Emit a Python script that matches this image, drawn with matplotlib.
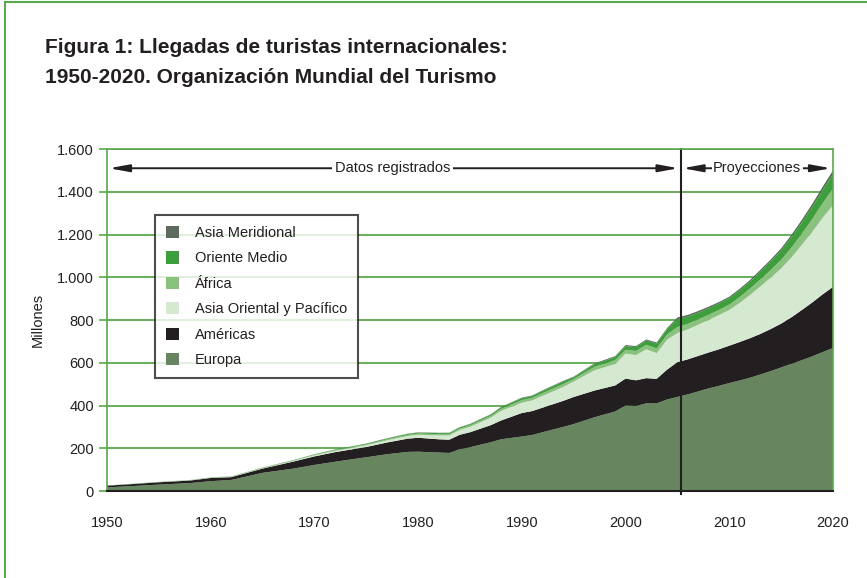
import matplotlib.pyplot as plt
from matplotlib.lines import Line2D

# years (registered data up to 2005, projections after)
years = [1950, 1952, 1955, 1958, 1960, 1962, 1965, 1968, 1970, 1972, 1975, 1977,
         1979, 1980, 1982, 1983, 1984, 1985, 1987, 1988, 1990, 1991, 1992, 1994,
         1995, 1997, 1999, 2000, 2001, 2002, 2003, 2004, 2005, 2006, 2007, 2008,
         2009, 2010, 2011, 2012, 2013, 2014, 2015, 2016, 2017, 2018, 2019, 2020]

# millions of arrivals per region
europa = [17, 22, 30, 37, 46, 52, 85, 105, 122, 137, 158, 172,
          183, 184, 180, 178, 195, 205, 228, 242, 255, 262, 275, 300,
          313, 345, 372, 400, 398, 410, 410, 428, 440, 452, 466, 480,
          492, 505, 517, 530, 545, 561, 578, 595, 612, 630, 650, 669]
americas = [8, 9, 11, 12, 15, 13, 20, 33, 40, 45, 48, 55,
            62, 65, 62, 62, 68, 70, 80, 88, 110, 112, 115, 122,
            127, 125, 122, 126, 120, 118, 115, 140, 163, 164, 166, 168,
            171, 175, 180, 185, 190, 197, 205, 218, 235, 252, 270, 286]
asia_oriental = [0.3, 0.4, 0.5, 0.8, 1, 1.5, 2, 3, 5, 6, 8, 10,
                 12, 14, 18, 20, 22, 25, 35, 45, 48, 50, 55, 65,
                 72, 95, 100, 117, 118, 135, 120, 140, 136, 140, 146, 152,
                 160, 167, 183, 202, 222, 240, 258, 280, 305, 330, 358, 383]
africa = [0.5, 0.6, 0.8, 0.9, 1, 1.1, 1.5, 2, 2.4, 3, 4, 5,
          6, 6, 6, 6, 7, 7, 8, 9, 12, 12, 13, 14,
          12, 16, 18, 18, 19, 21, 22, 24, 28, 26, 25, 24,
          24, 25, 27, 30, 33, 36, 40, 46, 52, 60, 68, 78]
oriente_medio = [0.3, 0.3, 0.4, 0.5, 0.6, 0.8, 1, 1.5, 1.9, 2.5, 3, 3.5,
                 4, 4, 5, 5, 5, 5, 6, 7, 9, 8, 10, 11,
                 8, 12, 14, 17, 18, 20, 23, 24, 36, 34, 31, 30,
                 30, 30, 31, 32, 36, 40, 44, 48, 52, 56, 61, 66]
asia_meridional = [0.1, 0.1, 0.1, 0.1, 0.2, 0.2, 0.3, 0.5, 0.8, 1, 1.2, 1.4,
                   1.5, 1.5, 1.5, 1.5, 2, 2, 2, 2.5, 3, 3, 3, 3.5,
                   3, 4, 5, 5, 5, 5, 5, 6, 9, 8, 8, 8,
                   7, 7, 8, 8, 9, 9, 10, 12, 13, 15, 16, 18]

labels = ['Europa', 'Américas', 'Asia Oriental y Pacífico', 'África',
          'Oriente Medio', 'Asia Meridional']
colors = ['#678660', '#231f20', '#d4e9d0', '#89c27c', '#3c9f3c', '#5d6b5d']

yticks = [0, 200, 400, 600, 800, 1000, 1200, 1400, 1600]
ytick_labels = ['0', '200', '400', '600', '800', '1.000', '1.200', '1.400', '1.600']
xticks = [1950, 1960, 1970, 1980, 1990, 2000, 2010, 2020]

sans = ['Liberation Sans', 'DejaVu Sans']
green = '#5aa84c'
ink = '#231f20'

fig = plt.figure(figsize=(8.67, 5.78), dpi=100)
ax = fig.add_axes([0.1234, 0.1505, 0.8374, 0.5917])

polys = ax.stackplot(years, europa, americas, asia_oriental, africa,
                     oriente_medio, asia_meridional, colors=colors, labels=labels,
                     linewidth=0)

ax.set_xlim(1950, 2020)
ax.set_ylim(0, 1600)
ax.set_yticks(yticks)
ax.set_yticklabels(ytick_labels, family=sans, fontsize=10.5)
ax.set_xticks(xticks)
ax.set_xticklabels([str(x) for x in xticks], family=sans, fontsize=10.5)
ax.tick_params(axis='y', colors=green, labelcolor=ink, length=6, width=1.2)
ax.tick_params(axis='x', length=0, pad=18, labelcolor=ink)

ax.grid(axis='y', color=green, linewidth=1.3)
ax.set_axisbelow(True)
for side in ['left', 'top', 'right']:
    ax.spines[side].set_color(green)
    ax.spines[side].set_linewidth(1.2)
ax.spines['bottom'].set_color(ink)
ax.spines['bottom'].set_linewidth(1.5)

ax.set_ylabel('Millones', family=sans, fontsize=10.5, labelpad=9, color=ink)

# boundary between registered data and projections
ax.plot([2005.3, 2005.3], [-12, 1600], color=ink, lw=1.5, clip_on=False)

arrow = dict(arrowstyle='<|-|>,head_length=1.2,head_width=0.22', color=ink,
             lw=1.4, shrinkA=0, shrinkB=0)
ax.annotate('', xy=(1950.2, 1510), xytext=(2005.1, 1510), arrowprops=arrow)
ax.annotate('', xy=(2005.5, 1510), xytext=(2019.8, 1510), arrowprops=arrow)
ax.text(1977.5, 1510, 'Datos registrados', ha='center', va='center', family=sans,
        fontsize=10.5, color=ink, bbox=dict(facecolor='white', edgecolor='none', pad=2))
ax.text(2012.7, 1510, 'Proyecciones', ha='center', va='center', family=sans,
        fontsize=10.5, color=ink, bbox=dict(facecolor='white', edgecolor='none', pad=1))

handles = polys[::-1]
leg = ax.legend(handles, labels[::-1], loc='upper left', bbox_to_anchor=(0.066, 0.807),
                prop={'family': sans, 'size': 10.5}, frameon=True, fancybox=False,
                handlelength=0.9, handleheight=0.9, handletextpad=1.1,
                labelspacing=0.78, borderpad=0.75, borderaxespad=0)
leg.get_frame().set_edgecolor(ink)
leg.get_frame().set_linewidth(1.5)
for t in leg.get_texts():
    t.set_color(ink)

fig.text(0.052, 0.917, 'Figura 1: Llegadas de turistas internacionales:',
         family=sans, fontsize=15, fontweight='bold', va='center', color=ink)
fig.text(0.052, 0.866, '1950-2020. Organización Mundial del Turismo',
         family=sans, fontsize=15, fontweight='bold', va='center', color=ink)

# outer frame of the figure box
fig.add_artist(Line2D([0.006, 0.006], [0, 0.997], color=green, lw=1.5))
fig.add_artist(Line2D([0.006, 1], [0.997, 0.997], color=green, lw=1.5))

fig.savefig('out.png', dpi=100)
